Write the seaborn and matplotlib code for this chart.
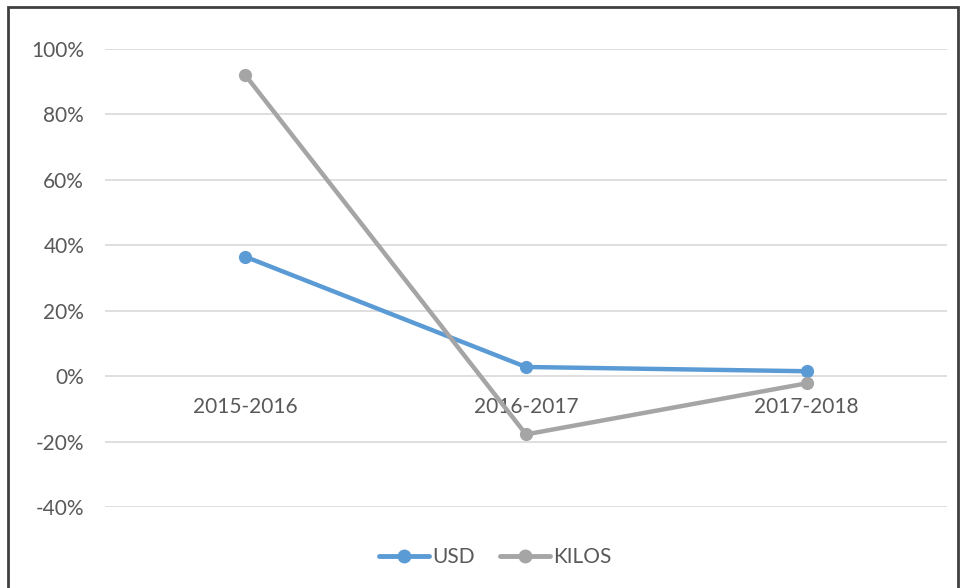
import pandas as pd
import matplotlib
matplotlib.use("Agg")
import matplotlib.pyplot as plt
import seaborn as sns
from matplotlib.ticker import FuncFormatter, MultipleLocator

# Data (year-over-year change, %)
periods = ["2015-2016", "2016-2017", "2017-2018"]
usd = [36.5, 2.8, 1.5]
kilos = [92.0, -17.8, -2.2]

df = pd.DataFrame({
    "Period": periods * 2,
    "Change": usd + kilos,
    "Series": ["USD"] * 3 + ["KILOS"] * 3,
})

sns.set_style("white")
plt.rcParams['font.family'] = ['Lato', 'DejaVu Sans']

fig = plt.figure(figsize=(9.61, 5.88), dpi=100)
ax = fig.add_axes([105 / 961, 1 - 507 / 588, (947 - 105) / 961, (507 - 49) / 588])

palette = {"USD": "#5B9BD5", "KILOS": "#A5A5A5"}
sns.lineplot(data=df, x="Period", y="Change", hue="Series", palette=palette,
             marker="o", markersize=9.5, markeredgewidth=0, linewidth=3.2,
             sort=False, ax=ax, legend=False)

ax.set_xlim(-0.5, 2.5)
ax.set_ylim(-40, 100)
ax.yaxis.set_major_locator(MultipleLocator(20))
ax.yaxis.set_major_formatter(FuncFormatter(lambda v, p: f"{v:.0f}%"))
ax.grid(axis="y", color="#D9D9D9", linewidth=1.2)
ax.set_axisbelow(True)
for s in ax.spines.values():
    s.set_visible(False)
ax.spines['bottom'].set_position(('data', 0))
ax.set_xlabel("")
ax.set_ylabel("")
ax.tick_params(axis="x", length=0, pad=15, labelsize=15, labelcolor="#595959")
ax.tick_params(axis="y", length=0, pad=15, labelsize=15, labelcolor="#595959")

# legend at bottom
handles = [plt.Line2D([], [], color=palette[k], marker="o", markersize=10,
                      linewidth=3.5, markeredgewidth=0) for k in ["USD", "KILOS"]]
fig.legend(handles, ["USD", "KILOS"], loc="center", bbox_to_anchor=(495 / 961, 1 - 557 / 588),
           ncol=2, frameon=False, fontsize=15, labelcolor="#595959",
           handlelength=2.4, handletextpad=0.15, columnspacing=1.2)

# outer frame
fig.add_artist(plt.Rectangle((8 / 961, -0.1), 950 / 961, 1 - 7 / 588 + 0.1, fill=False,
                             linewidth=2, edgecolor="#404040", transform=fig.transFigure))

fig.savefig("out.png", dpi=100)
